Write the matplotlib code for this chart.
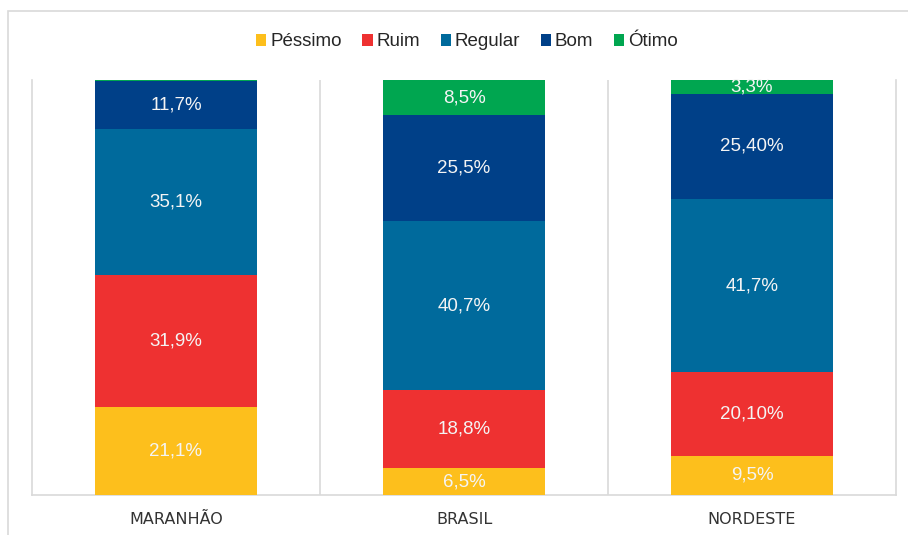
import matplotlib
matplotlib.use("Agg")
import matplotlib.pyplot as plt
from matplotlib.patches import Rectangle
import numpy as np

plt.rcParams['font.family'] = ['Liberation Sans', 'DejaVu Sans']

categories = ["MARANHÃO", "BRASIL", "NORDESTE"]
series_names = ["Péssimo", "Ruim", "Regular", "Bom", "Ótimo"]
pessimo = [21.1, 6.5, 9.5]
ruim = [31.9, 18.8, 20.1]
regular = [35.1, 40.7, 41.7]
bom = [11.7, 25.5, 25.4]
otimo = [0.2, 8.5, 3.3]
pessimo_labels = ["21,1%", "6,5%", "9,5%"]
ruim_labels = ["31,9%", "18,8%", "20,10%"]
regular_labels = ["35,1%", "40,7%", "41,7%"]
bom_labels = ["11,7%", "25,5%", "25,40%"]
otimo_labels = ["", "8,5%", "3,3%"]

colors = ["#FDBF1C", "#EE3131", "#006A9C", "#004088", "#00A650"]

values = [pessimo, ruim, regular, bom, otimo]
labels = [pessimo_labels, ruim_labels, regular_labels, bom_labels, otimo_labels]

fig = plt.figure(figsize=(9.08, 5.35), dpi=100)
W, H = 908, 535
ax = fig.add_axes([32 / W, 1 - 495 / H, (896 - 32) / W, (495 - 80) / H])

# outer frame
fig.patches.append(Rectangle((8 / W, -0.05), 1.1, 1 - 11 / H + 0.05,
                             transform=fig.transFigure, fill=False,
                             edgecolor="#D9D9D9", linewidth=1.2, zorder=0))

x = np.arange(len(categories))
bottom = np.zeros(len(categories))
for name, vals, labs, col in zip(series_names, values, labels, colors):
    vals = np.array(vals)
    ax.bar(x, vals, width=0.56, bottom=bottom, color=col, label=name, zorder=3)
    for xi, b, v, lab in zip(x, bottom, vals, labs):
        if lab:
            ax.text(xi, b + v / 2, lab, ha="center", va="center",
                    color="#F4F4F4", fontsize=13.5, zorder=4)
    bottom += vals

ax.set_xlim(-0.5, 2.5)
ax.set_ylim(0, 100)
ax.set_yticks([])
ax.set_xticks(x)
ax.set_xticklabels(categories, fontsize=11.5, color="#333333",
                   family=['DejaVu Sans'], fontstretch='expanded')
ax.tick_params(axis="x", length=0, pad=12)
ax.spines["top"].set_visible(False)
for s in ["left", "right", "bottom"]:
    ax.spines[s].set_color("#D9D9D9")
    ax.spines[s].set_linewidth(1.2)
for xv in [0.5, 1.5]:
    ax.axvline(xv, color="#D9D9D9", linewidth=1.2, zorder=1)

fig.legend(loc="center", bbox_to_anchor=(467 / W, 1 - 42 / H), ncol=5,
           frameon=False, fontsize=13.5, handlelength=0.55, handleheight=0.55,
           handletextpad=0.2, columnspacing=1.1, labelcolor="#262626")

fig.savefig("out.png", dpi=100)
